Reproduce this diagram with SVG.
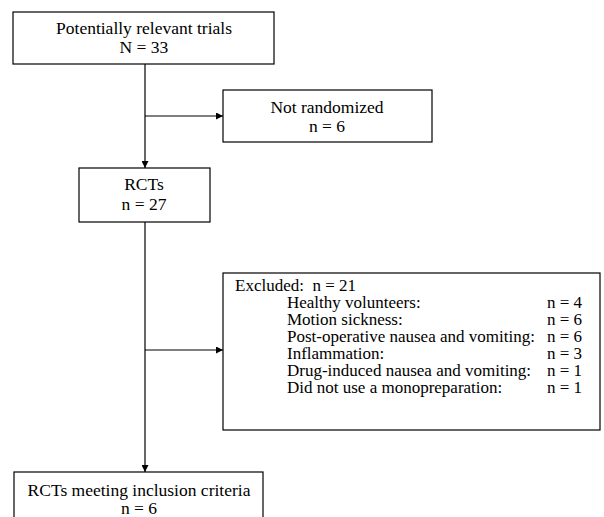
<svg xmlns="http://www.w3.org/2000/svg" width="604" height="517" viewBox="0 0 604 517">
<style>
text{font-family:"Liberation Serif","Times New Roman",serif;font-size:17.5px;fill:#000}
.c{text-anchor:middle}
.l{font-size:17px}
.r{font-size:17px;text-anchor:end}
.box{fill:#fff;stroke:#000;stroke-width:1.2}
.ln{fill:none;stroke:#000;stroke-width:1.2}
</style>
<defs>
<marker id="ah" viewBox="0 0 10 10" refX="10" refY="5" markerWidth="7" markerHeight="7" markerUnits="userSpaceOnUse" orient="auto">
<path d="M0,0 L10,5 L0,10 z" fill="#000"/>
</marker>
</defs>
<g id="connectors">
<line class="ln" x1="145" y1="64" x2="145" y2="168" marker-end="url(#ah)"/>
<line class="ln" x1="145" y1="116" x2="223" y2="116" marker-end="url(#ah)"/>
<line class="ln" x1="145" y1="222" x2="145" y2="472" marker-end="url(#ah)"/>
<line class="ln" x1="145" y1="350" x2="223" y2="350" marker-end="url(#ah)"/>
</g>
<g id="trials">
<rect class="box" x="13" y="12" width="261" height="52"/>
<text class="c" x="144" y="34">Potentially relevant trials</text>
<text class="c" x="144" y="53">N = 33</text>
</g>
<g id="notrandomized">
<rect class="box" x="223" y="90" width="209" height="52"/>
<text class="c" x="327" y="113">Not randomized</text>
<text class="c" x="327" y="132">n = 6</text>
</g>
<g id="rcts">
<rect class="box" x="79" y="168" width="131" height="54"/>
<text class="c" x="144" y="190">RCTs</text>
<text class="c" x="144" y="210">n = 27</text>
</g>
<g id="excluded">
<rect class="box" x="223" y="273" width="377" height="157"/>
<text class="l" x="235" y="291" xml:space="preserve">Excluded:  n = 21</text>
<text class="l" x="287" y="308">Healthy volunteers:</text>
<text class="l" x="287" y="325">Motion sickness:</text>
<text class="l" x="287" y="342">Post-operative nausea and vomiting:</text>
<text class="l" x="287" y="359">Inflammation:</text>
<text class="l" x="287" y="376">Drug-induced nausea and vomiting:</text>
<text class="l" x="287" y="393">Did not use a monopreparation:</text>
<text class="r" x="582" y="308">n = 4</text>
<text class="r" x="582" y="325">n = 6</text>
<text class="r" x="582" y="342">n = 6</text>
<text class="r" x="582" y="359">n = 3</text>
<text class="r" x="582" y="376">n = 1</text>
<text class="r" x="582" y="393">n = 1</text>
</g>
<g id="included">
<rect class="box" x="14" y="472" width="249" height="60"/>
<text class="c" x="139" y="496">RCTs meeting inclusion criteria</text>
<text class="c" x="139" y="514">n = 6</text>
</g>
</svg>
